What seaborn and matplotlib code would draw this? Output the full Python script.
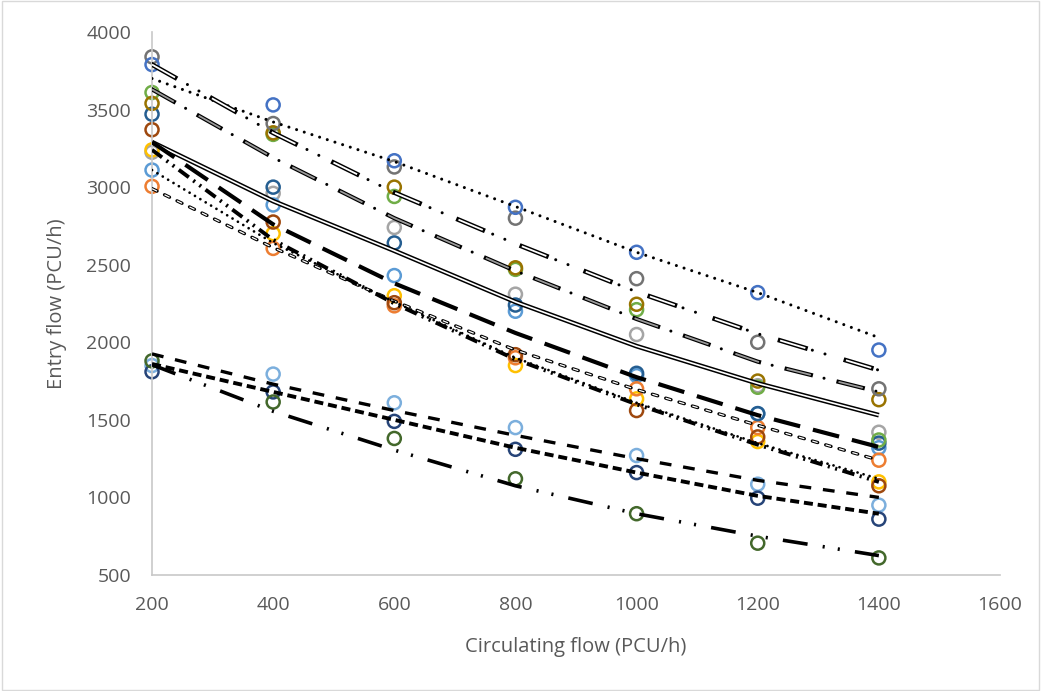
import matplotlib
matplotlib.use("Agg")
import matplotlib.pyplot as plt
import seaborn as sns
import pandas as pd

# ---------------- data ----------------
circ_flow = [200, 400, 600, 800, 1000, 1200, 1400]

series_names = ["S1", "S2", "S3", "S4", "S5", "S6", "S7", "S8", "S9", "S10", "S11", "S12", "S13"]
series_colors = ["#A5A5A5", "#5B9BD5", "#FFC000", "#ED7D31", "#9E480E", "#255E91", "#70AD47",
                 "#997300", "#737373", "#4472C4", "#7CAFDD", "#264478", "#43682B"]
s_lgray   = [3225, 2960, 2740, 2310, 2050, 1720, 1420]
s_lblue   = [3110, 2885, 2430, 2200, 1785, 1540, 1320]
s_gold    = [3240, 2700, 2300, 1850, 1635, 1360, 1100]
s_orange  = [3005, 2605, 2235, 1900, 1700, 1450, 1240]
s_dorange = [3370, 2775, 2255, 1920, 1560, 1390, 1075]
s_dblue   = [3470, 3000, 2640, 2240, 1800, 1540, 1350]
s_green   = [3610, 3340, 2940, 2470, 2210, 1710, 1370]
s_dgold   = [3540, 3350, 3000, 2480, 2245, 1750, 1630]
s_dgray   = [3840, 3410, 3130, 2800, 2410, 2000, 1700]
s_blue    = [3790, 3530, 3170, 2870, 2580, 2320, 1950]
s_llblue  = [1850, 1795, 1610, 1450, 1270, 1085, 950]
s_navy    = [1810, 1680, 1490, 1310, 1160, 995, 860]
s_dgreen  = [1880, 1615, 1380, 1120, 895, 705, 610]
series_values = [s_lgray, s_lblue, s_gold, s_orange, s_dorange, s_dblue, s_green,
                 s_dgold, s_dgray, s_blue, s_llblue, s_navy, s_dgreen]

# trend lines (values read at each circulating flow)
t_dotted_top   = [3700, 3420, 3165, 2875, 2580, 2320, 2030]
t_hollow_dd    = [3790, 3350, 2965, 2635, 2325, 2055, 1820]
t_gray_dd      = [3630, 3190, 2800, 2460, 2150, 1875, 1680]
t_solid_double = [3290, 2910, 2590, 2260, 1975, 1735, 1530]
t_long_dash    = [3290, 2760, 2380, 2060, 1775, 1530, 1325]
t_hollow_short = [2990, 2610, 2265, 1950, 1695, 1465, 1240]
t_dotted_mid   = [3110, 2640, 2260, 1900, 1610, 1350, 1120]
t_thick_dd     = [3240, 2660, 2250, 1890, 1600, 1340, 1100]
t_dash_low     = [1925, 1730, 1560, 1400, 1250, 1110, 1000]
t_dense_dash   = [1860, 1680, 1500, 1320, 1160, 1010, 895]
t_ldd_low      = [1855, 1555, 1305, 1075, 895, 750, 625]

x_ticks = [200, 400, 600, 800, 1000, 1200, 1400, 1600]
y_ticks = [500, 1000, 1500, 2000, 2500, 3000, 3500, 4000]

# ---------------- style ----------------
sns.set_theme(style="white")
plt.rcParams["font.family"] = ["Open Sans", "DejaVu Sans"]
plt.rcParams["lines.scale_dashes"] = False

fig = plt.figure(figsize=(10.42, 6.91), dpi=100)
fig.patch.set_facecolor("white")
ax = fig.add_axes([0.1459, 0.1679, 0.8138, 0.7858])

rows = []
for name, vals in zip(series_names, series_values):
    for xv, yv in zip(circ_flow, vals):
        rows.append({"x": xv, "y": yv, "series": name})
df = pd.DataFrame(rows)

sns.scatterplot(data=df, x="x", y="y", hue="series", hue_order=series_names,
                palette=dict(zip(series_names, series_colors)), s=88, linewidth=1.8,
                marker="o", legend=False, ax=ax, zorder=2)
coll = ax.collections[0]
coll.set_edgecolors(coll.get_facecolors())
coll.set_facecolors("none")
coll.set_clip_on(False)


def draw(vals, layers, z):
    for i, (lw, col, ls, cap) in enumerate(layers):
        sns.lineplot(x=circ_flow, y=vals, ax=ax, color=col, lw=lw, linestyle=ls,
                     dash_capstyle=cap, solid_capstyle=cap, zorder=z + i * 0.01,
                     legend=False)


draw(t_dotted_top, [(2.2, "black", (0, (0.01, 5.8)), "round")], 3)
draw(t_hollow_dd, [(3.4, "black", (0, (19, 30.5)), "projecting"),
                   (1.3, "white", (0, (19, 30.5)), "butt"),
                   (2.2, "black", (19.75, (0.01, 9.49, 0.01, 39.49)), "round")], 3.1)
draw(t_gray_dd, [(3.0, "black", (0, (18, 20.5)), "projecting"),
                 (1.3, "#9A9A9A", (0, (18, 20.5)), "butt"),
                 (2.2, "black", (10.75, (0.01, 38.49)), "round")], 3.2)
draw(t_solid_double, [(3.4, "black", "-", "butt"), (1.2, "white", "-", "butt")], 3.3)
draw(t_long_dash, [(3.0, "black", (0, (19.5, 9.5)), "butt")], 3.4)
draw(t_hollow_short, [(2.4, "black", (0, (4, 6)), "round"),
                      (0.9, "white", (0, (4, 6)), "butt")], 3.5)
draw(t_dotted_mid, [(2.0, "black", (0, (0.01, 4.5)), "round")], 3.6)
draw(t_thick_dd, [(2.8, "black", (0, (9, 4, 1.5, 4, 1.5, 4)), "butt")], 3.7)
draw(t_dash_low, [(2.4, "black", (0, (8.5, 8.5)), "butt")], 3.8)
draw(t_dense_dash, [(2.8, "black", (0, (6.5, 3.5)), "butt")], 3.9)
draw(t_ldd_low, [(2.6, "black", (0, (18, 11, 1.5, 9.5, 1.5, 11)), "butt")], 4.0)

ax.set_xlim(200, 1600)
ax.set_ylim(500, 4000)
ax.set_xticks(x_ticks)
ax.set_yticks(y_ticks)
ax.tick_params(axis="both", length=0, labelsize=14, colors="#595959")
ax.tick_params(axis="x", pad=15)
ax.tick_params(axis="y", pad=15)
for side in ["top", "right"]:
    ax.spines[side].set_visible(False)
for side in ["left", "bottom"]:
    ax.spines[side].set_color("#C8C8C8")
    ax.spines[side].set_linewidth(1.2)
ax.grid(False)
ax.set_xlabel("Circulating flow (PCU/h)", fontsize=14.5, color="#595959", labelpad=17)
ax.set_ylabel("Entry flow (PCU/h)", fontsize=14.5, color="#595959", labelpad=14)

fig.add_artist(plt.Rectangle((0.0015, 0.002), 0.9955, 0.996, transform=fig.transFigure,
                             fill=False, edgecolor="#D9D9D9", lw=1))

fig.savefig("out.png", dpi=100, facecolor="white")
